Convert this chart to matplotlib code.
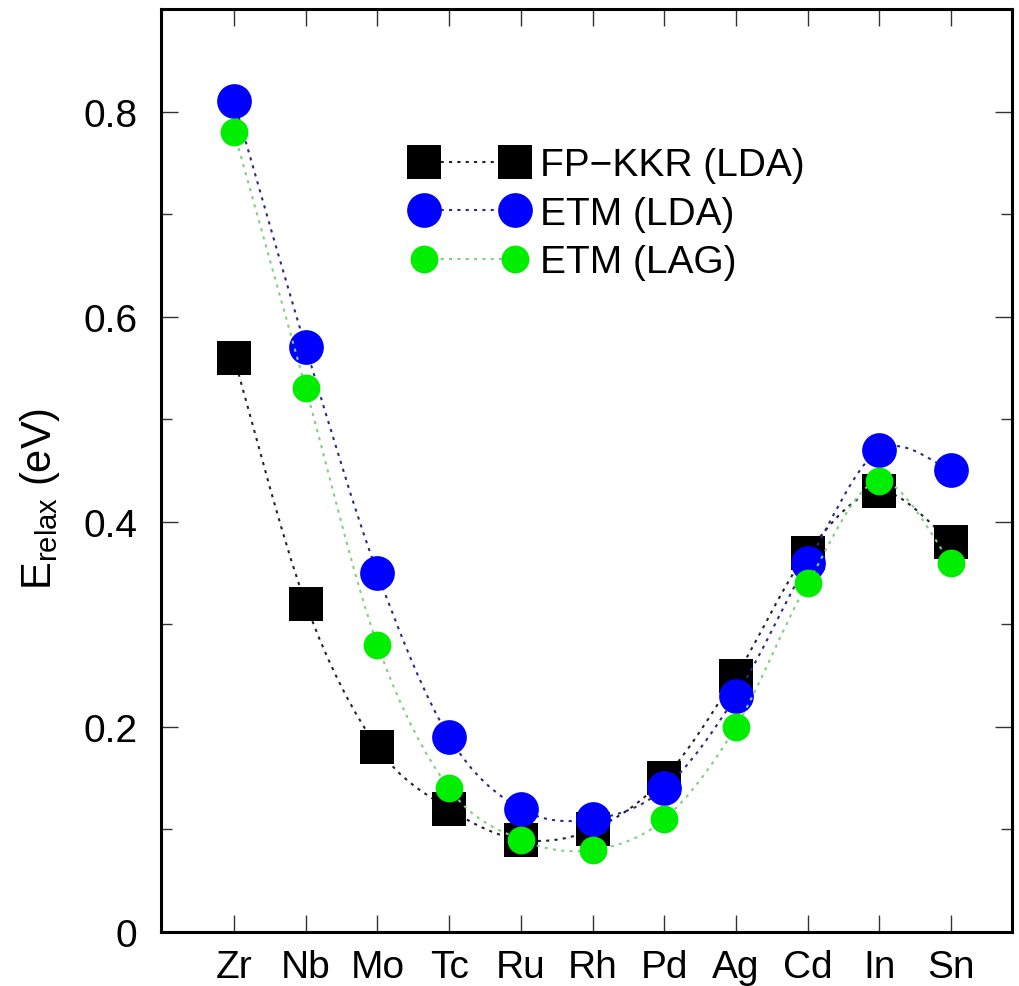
#!/usr/bin/env python
# -*- coding: utf-8 -*-

"""
Relaxation energies of 4d/5sp impurities: FP-KKR vs. ETM (LDA and LAG).
"""

import numpy as np
import matplotlib
matplotlib.use("Agg")
import matplotlib.pyplot as plt
from matplotlib.path import Path
from matplotlib.patches import PathPatch
from matplotlib.lines import Line2D
from matplotlib.ticker import MultipleLocator

# Elements along the x axis
elements = ['Zr', 'Nb', 'Mo', 'Tc', 'Ru', 'Rh', 'Pd', 'Ag', 'Cd', 'In', 'Sn']

# Relaxation energies (eV)
fpkkr_lda = [0.56, 0.32, 0.18, 0.12, 0.09, 0.10, 0.15, 0.25, 0.37, 0.43, 0.38]
etm_lda = [0.81, 0.57, 0.35, 0.19, 0.12, 0.11, 0.14, 0.23, 0.36, 0.47, 0.45]
etm_lag = [0.78, 0.53, 0.28, 0.14, 0.09, 0.08, 0.11, 0.20, 0.34, 0.44, 0.36]

y_ticks = [0, 0.2, 0.4, 0.6, 0.8]
y_tick_labels = ['0', '0.2', '0.4', '0.6', '0.8']

plt.rcParams['font.family'] = ['Liberation Sans', 'DejaVu Sans']
plt.rcParams['mathtext.fontset'] = 'custom'
plt.rcParams['mathtext.rm'] = 'Liberation Sans'
plt.rcParams['mathtext.it'] = 'Liberation Sans'


def smooth_path(x, y):
    """Catmull-Rom curve through the points, as cubic Bezier segments."""
    pts = np.column_stack([x, y]).astype(float)
    n = len(pts)
    verts = [pts[0]]
    codes = [Path.MOVETO]
    for i in range(n - 1):
        p0 = pts[max(i - 1, 0)]
        p1 = pts[i]
        p2 = pts[i + 1]
        p3 = pts[min(i + 2, n - 1)]
        c1 = p1 + (p2 - p0) / 6.0
        c2 = p2 - (p3 - p1) / 6.0
        verts += [c1, c2, p2]
        codes += [Path.CURVE4] * 3
    return Path(verts, codes)


fig = plt.figure(figsize=(10.19, 9.87), dpi=100)
ax = fig.add_axes([0.158, 0.0547, 0.835, 0.9352])

x = np.arange(len(elements))
dots = (0, (1.5, 2.5))

series = [
    (fpkkr_lda, 's', 25, '#000000', '#222233', 'FP\u2212KKR (LDA)'),
    (etm_lda, 'o', 25, '#0000ff', '#2a2a88', 'ETM (LDA)'),
    (etm_lag, 'o', 20, '#00ee00', '#80d080', 'ETM (LAG)'),
]

handles = []
for i, (vals, marker, ms, color, lcolor, label) in enumerate(series):
    curve = PathPatch(smooth_path(x, vals), fill=False, edgecolor=lcolor,
                      lw=1.5, linestyle=dots, zorder=2 + 2 * i)
    ax.add_patch(curve)
    ax.plot(x, vals, linestyle='none', marker=marker, ms=ms, color=color,
            markeredgewidth=0, zorder=3 + 2 * i)
    handles.append(Line2D([], [], marker=marker, ms=ms, color=lcolor,
                          markerfacecolor=color, markeredgewidth=0,
                          lw=1.5, linestyle=dots, label=label))

ax.set_xlim(-1.02, 10.85)
ax.set_ylim(0, 0.9)
ax.set_xticks(x)
ax.set_xticklabels(elements)
ax.set_yticks(y_ticks)
ax.set_yticklabels(y_tick_labels)
ax.yaxis.set_minor_locator(MultipleLocator(0.1))

ax.tick_params(axis='both', which='major', direction='in', length=12,
               width=1, color='#333333', labelsize=28, top=True, right=True)
ax.tick_params(axis='y', which='minor', direction='in', length=8,
               width=1, color='#333333', right=True)
ax.tick_params(axis='y', which='major', pad=17)
ax.tick_params(axis='x', which='major', pad=12)

for spine in ax.spines.values():
    spine.set_linewidth(2.2)

ax.set_ylabel('E$_{\\mathrm{relax}}$ (eV)', fontsize=30)
ax.yaxis.set_label_coords(-0.116, 0.47)

ax.legend(handles=handles, loc='upper left', bbox_to_anchor=(0.295, 0.85),
          frameon=False, fontsize=28, numpoints=2, handlelength=2.94,
          handletextpad=0.35, labelspacing=0.32, borderpad=0,
          borderaxespad=0)

fig.savefig('out.png', dpi=100)
